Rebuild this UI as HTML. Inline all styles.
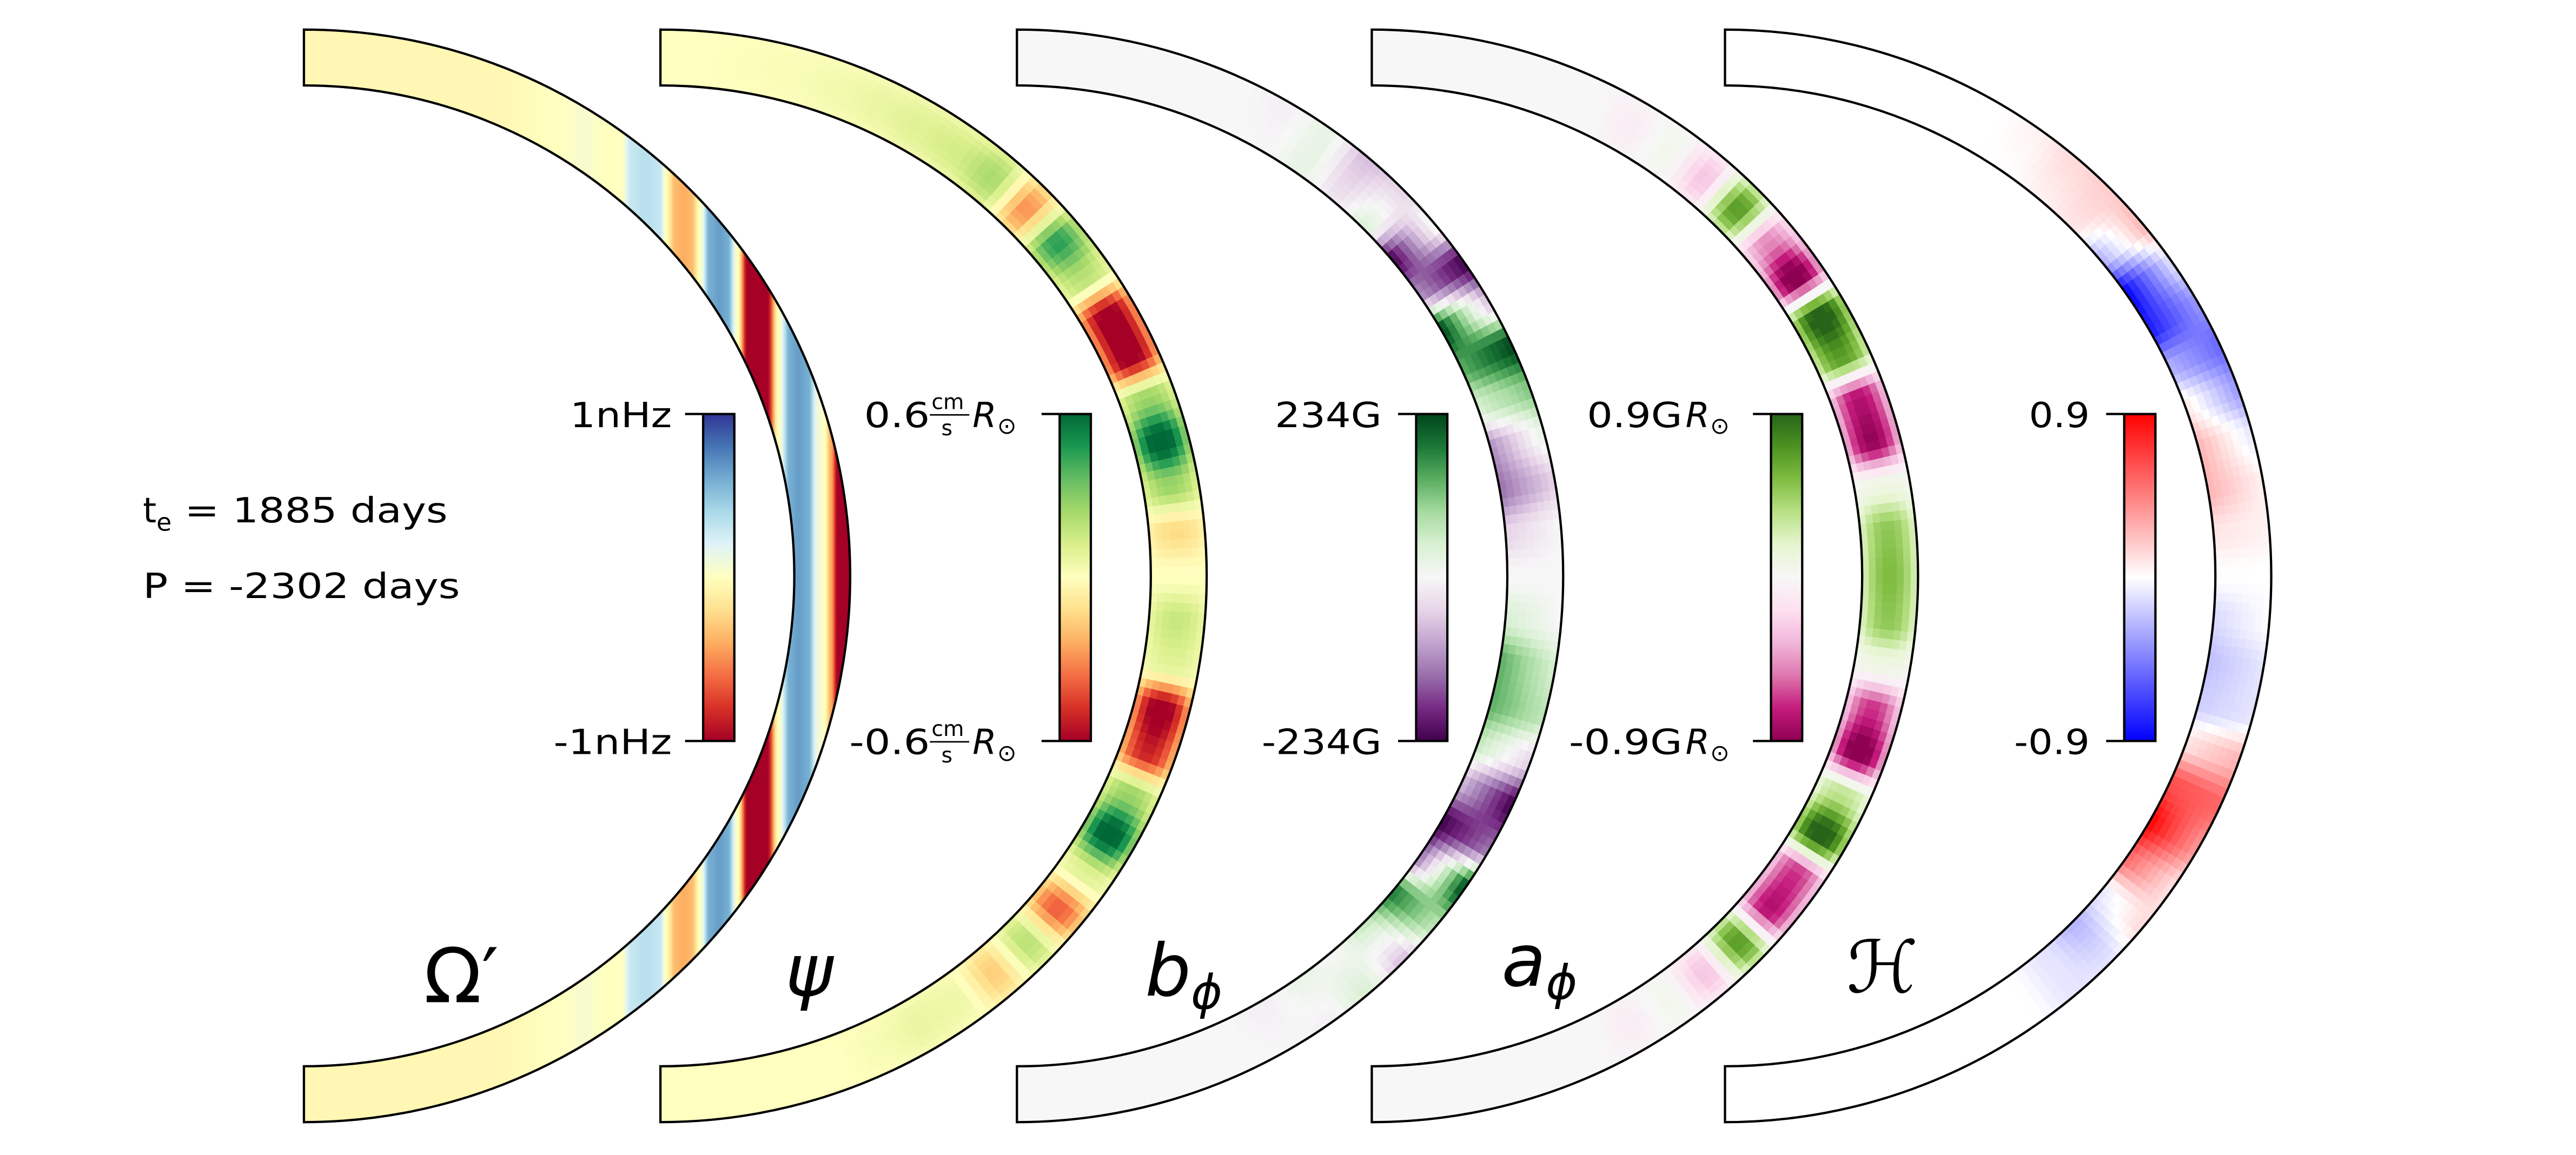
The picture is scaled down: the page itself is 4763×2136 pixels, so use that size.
<!DOCTYPE html>
<html><head><meta charset="utf-8">
<style>
html,body{margin:0;padding:0;background:#fff;}
svg{display:block;}
text{font-family:"DejaVu Sans","Liberation Sans",sans-serif;fill:#000;}
</style></head>
<body>
<svg id="fig" xmlns="http://www.w3.org/2000/svg" width="4763" height="2136" viewBox="0 0 1568 703" preserveAspectRatio="none">
  <defs id="defs"></defs>
  <g id="fields"></g>
  <g id="outlines"></g>
  <g id="bars"></g>
  <g font-size="21">
    <text x="87" y="318">t<tspan font-size="15" dy="5">e</tspan><tspan dy="-5" textLength="168" lengthAdjust="spacingAndGlyphs"> = 1885 days</tspan></text>
    <text x="87" y="364" textLength="193" lengthAdjust="spacingAndGlyphs">P  = -2302 days</text>
  </g>
  <g font-size="44">
    <text x="258" y="610" font-size="46">Ω′</text>
    <text x="478" y="606" font-style="italic">ψ</text>
    <text x="697" y="606" font-style="italic">b<tspan font-size="29" dy="8">ϕ</tspan></text>
    <text x="914" y="600" font-style="italic">a<tspan font-size="29" dy="8">ϕ</tspan></text>
    <text x="1124" y="604" font-style="italic">ℋ</text>
  </g>
  <g font-size="21">
    <text x="347" y="260" textLength="62" lengthAdjust="spacingAndGlyphs">1nHz</text>
    <text x="337" y="459" textLength="72" lengthAdjust="spacingAndGlyphs">-1nHz</text>

    <g>
      <text x="526" y="260" textLength="40" lengthAdjust="spacingAndGlyphs">0.6</text>
      <text x="567" y="249" font-size="13">cm</text><line x1="566" y1="252.5" x2="590" y2="252.5" stroke="#000" stroke-width="0.9"/><text x="573" y="265" font-size="13">s</text>
      <text x="592" y="260" font-style="italic">R</text><text x="607" y="264" font-size="14">⊙</text>
    </g>
    <g>
      <text x="517" y="459" textLength="49" lengthAdjust="spacingAndGlyphs">-0.6</text>
      <text x="567" y="448" font-size="13">cm</text><line x1="566" y1="451.5" x2="590" y2="451.5" stroke="#000" stroke-width="0.9"/><text x="573" y="464" font-size="13">s</text>
      <text x="592" y="459" font-style="italic">R</text><text x="607" y="463" font-size="14">⊙</text>
    </g>

    <text x="776" y="260" textLength="65" lengthAdjust="spacingAndGlyphs">234G</text>
    <text x="768" y="459" textLength="73" lengthAdjust="spacingAndGlyphs">-234G</text>

    <g><text x="966" y="260" textLength="58" lengthAdjust="spacingAndGlyphs">0.9G</text><text x="1026" y="260" font-style="italic">R</text><text x="1041" y="264" font-size="14">⊙</text></g>
    <g><text x="955" y="459" textLength="69" lengthAdjust="spacingAndGlyphs">-0.9G</text><text x="1026" y="459" font-style="italic">R</text><text x="1041" y="463" font-size="14">⊙</text></g>

    <text x="1235" y="260" textLength="37" lengthAdjust="spacingAndGlyphs">0.9</text>
    <text x="1226" y="459" textLength="46" lengthAdjust="spacingAndGlyphs">-0.9</text>
  </g>
</svg>
<script>
// ---------- data ----------
const lats = [90,85,80,75,70,65,60,55,50,45,40,35,30,25,20,15,10,5,0,-5,-10,-15,-20,-25,-30,-35,-40,-45,-50,-55,-60,-65,-70,-75,-80,-85,-90];
const omegaS = [0,0.345,0.465,0.511,0.556,0.580,0.598,0.625,0.652,0.661,0.679,0.694,0.709,0.724,0.742,0.760,0.775,0.793,0.811,0.829,0.847,0.868,0.889,0.904,0.922,0.940,0.952,0.964,0.976,1.0];
const omegaV = [-0.05,-0.05,0,0.05,0,0,0.3,0.35,0.3,0,-0.35,-0.4,-0.35,0,0.6,0.65,0.6,0,-1,-1,-1,0,0.6,0.65,0.6,0.1,0,-0.4,-1,-1];
const psiV = [0,0,0.02,0.03,0.06,0.1,0.15,0.2,0.35,-0.45,0.7,0.3,-1,-1,0.4,1,0.4,-0.2,0,0.25,0.15,-1,-0.8,0.4,1,0.15,-0.6,0.3,-0.25,0.08,0.1,0.04,0,0,0,0,0];
const bInner = [0,0,0,0,0,0,0,0.1,-0.1,0.2,-1,-0.5,1.0,0.6,0.2,-0.5,-0.6,-0.2,0,0.2,0.6,0.6,0.3,-0.3,-1,-0.6,0.8,0.3,0,0.1,-0.05,0,0,0,0,0,0];
const bOuter = [0,0,0,0,0,0,-0.05,0.1,-0.3,-0.2,0.1,-1,-0.3,1,0.5,0.1,-0.2,0,0,0,0.2,0.3,-0.2,-1,-0.6,1,0.3,-0.3,0.2,-0.05,0,0,0,0,0,0,0];
const aV = [0,0,0,0,0,0,-0.08,0.05,-0.3,0.7,-0.5,-1,1,0.7,-0.8,-0.9,0.1,0.5,0.55,0.5,0.1,-0.7,-1,0.35,1,-0.7,-0.8,0.7,-0.3,0.05,-0.08,0,0,0,0,0,0];
const hInner = [0,0,0,0,0,0,0,0,0.05,0.1,-0.3,-1,-0.9,-0.3,0.1,0.3,0.3,0.1,0,-0.15,-0.25,-0.2,0.1,0.7,1,0.6,-0.1,-0.3,-0.1,0,0,0,0,0,0,0,0];
const hOuter = [0,0,0,0,0,0,0,0.05,0.15,0.2,0.3,-0.1,-0.4,-0.6,-0.4,-0.1,0.05,0.05,0,0,-0.1,-0.1,0.3,0.6,0.4,0.1,0.15,-0.1,-0.1,0,0,0,0,0,0,0,0];

// ---------- colormaps ----------
const CM = {
  RdYlBu:['#a50026','#d73027','#f46d43','#fdae61','#fee090','#ffffbf','#e0f3f8','#abd9e9','#74add1','#4575b4','#313695'],
  RdYlGn:['#a50026','#d73027','#f46d43','#fdae61','#fee08b','#ffffbf','#d9ef8b','#a6d96a','#66bd63','#1a9850','#006837'],
  PRGn:['#40004b','#762a83','#9970ab','#c2a5cf','#e7d4e8','#f7f7f7','#d9f0d3','#a6dba0','#5aae61','#1b7837','#00441b'],
  PiYG:['#8e0152','#c51b7d','#de77ae','#f1b6da','#fde0ef','#f7f7f7','#e6f5d0','#b8e186','#7fbc41','#4d9221','#276419'],
  bwr:['#0000ff','#ffffff','#ff0000']
};
function hex(h){return [parseInt(h.substr(1,2),16),parseInt(h.substr(3,2),16),parseInt(h.substr(5,2),16)];}
function cmap(name,v){
  const a=CM[name]; let t=(Math.max(-1,Math.min(1,v))+1)/2*(a.length-1);
  let i=Math.min(a.length-2,Math.floor(t)), f=t-i;
  const c0=hex(a[i]),c1=hex(a[i+1]);
  return 'rgb('+c0.map((c,k)=>Math.round(c+(c1[k]-c)*f)).join(',')+')';
}
function interp(xs,ys,x){
  const n=xs.length;
  for(let i=0;i<n-1;i++){
    const a=xs[i],b=xs[i+1];
    if((x<=a&&x>=b)||(x>=a&&x<=b)){let f=(x-a)/(b-a||1);f=f*f*(3-2*f);return ys[i]+(ys[i+1]-ys[i])*f;}
  }
  return ys[n-1];
}

// ---------- geometry ----------
const NS='http://www.w3.org/2000/svg';
const cy=350.5, Ro=332.5, Ri=298.5;
const panelX=[185,402,619,835,1050];
const barX=[428,645,862,1078,1293], barTop=252, barBot=451, barW=19;
const fields=document.getElementById('fields');
const defs=document.getElementById('defs');
const P=(cx,r,latd)=>{const t=latd*Math.PI/180;return [(cx+r*Math.cos(t)).toFixed(2),(cy-r*Math.sin(t)).toFixed(2)];};

function annulusPath(cx){
  return `M${cx},${cy-Ro} A${Ro},${Ro} 0 0 1 ${cx},${cy+Ro} L${cx},${cy+Ri} A${Ri},${Ri} 0 0 0 ${cx},${cy-Ri} Z`;
}

(function(){
  const cx=panelX[0];
  const cp=document.createElementNS(NS,'clipPath'); cp.setAttribute('id','clip0');
  const p=document.createElementNS(NS,'path'); p.setAttribute('d',annulusPath(cx)); cp.appendChild(p); defs.appendChild(cp);
  const g=document.createElementNS(NS,'g'); g.setAttribute('clip-path','url(#clip0)');
  
  
  for(let x=0;x<=Ro+1;x+=1){
    const s=x/Ro;
    const r=document.createElementNS(NS,'rect');
    r.setAttribute('x',cx+x-0.2); r.setAttribute('y',cy-Ro-2); r.setAttribute('width',1.4); r.setAttribute('height',2*Ro+4);
    r.setAttribute('fill',cmap('RdYlBu',interp(omegaS,omegaV,s)));
    
    
    g.appendChild(r);
  }
  fields.appendChild(g);
})();

function drawPanel(idx,name,cmapName,inner,outer,envelope){
  const cx=panelX[idx];
  const g=document.createElementNS(NS,'g');
  
  
  const nr=8;
  for(let L=90;L>-90;L-=1){
    const lm=L-0.5;
    const vi=interp(lats,inner,lm), vo=interp(lats,outer,lm);
    for(let k=0;k<nr;k++){
      const f=(k+0.5)/nr;
      let v=vi+(vo-vi)*f;
      if(envelope) v*= (0.3+0.8*Math.pow(Math.sin(Math.PI*f),0.7));
      const r1=Ri+(Ro-Ri)*k/nr, r2=Ri+(Ro-Ri)*(k+1)/nr;
      const a=P(cx,r1,L),b=P(cx,r2,L),c=P(cx,r2,L-1),d=P(cx,r1,L-1);
      const col=cmap(cmapName,v);
      const path=document.createElementNS(NS,'path');
      path.setAttribute('d',`M${a}L${b}L${c}L${d}Z`);
      path.setAttribute('fill',col); path.setAttribute('stroke',col); path.setAttribute('stroke-width','0.4');
      
      
      g.appendChild(path);
    }
  }
  fields.appendChild(g);
}
drawPanel(1,'psi-field','RdYlGn',psiV,psiV,true);
drawPanel(2,'b-phi-field','PRGn',bInner,bOuter,false);
drawPanel(3,'a-phi-field','PiYG',aV,aV,true);
drawPanel(4,'helicity-field','bwr',hInner,hOuter,false);

const outlines=document.getElementById('outlines');
const outlineNames=['omega-annulus','psi-annulus','b-phi-annulus','a-phi-annulus','helicity-annulus'];
panelX.forEach((cx,i)=>{
  const p=document.createElementNS(NS,'path');
  p.setAttribute('d',annulusPath(cx)); p.setAttribute('fill','none'); p.setAttribute('stroke','#000'); p.setAttribute('stroke-width','1.4');
  
  
  outlines.appendChild(p);
});

const bars=document.getElementById('bars');
const barMaps=['RdYlBu','RdYlGn','PRGn','PiYG','bwr'];
const barNames=['omega-colorbar','psi-colorbar','b-phi-colorbar','a-phi-colorbar','helicity-colorbar'];
barX.forEach((x,i)=>{
  const lg=document.createElementNS(NS,'linearGradient');
  lg.setAttribute('id','lg'+i); lg.setAttribute('x1','0'); lg.setAttribute('y1','1'); lg.setAttribute('x2','0'); lg.setAttribute('y2','0');
  const cols=CM[barMaps[i]];
  cols.forEach((c,k)=>{const s=document.createElementNS(NS,'stop');s.setAttribute('offset',k/(cols.length-1));s.setAttribute('stop-color',c);lg.appendChild(s);});
  defs.appendChild(lg);
  const r=document.createElementNS(NS,'rect');
  r.setAttribute('x',x); r.setAttribute('y',barTop); r.setAttribute('width',barW); r.setAttribute('height',barBot-barTop);
  r.setAttribute('fill','url(#lg'+i+')'); r.setAttribute('stroke','#000'); r.setAttribute('stroke-width','1.4');
  
  
  bars.appendChild(r);
  [barTop,barBot].forEach(y=>{
    const l=document.createElementNS(NS,'line');
    l.setAttribute('x1',x-11); l.setAttribute('x2',x); l.setAttribute('y1',y); l.setAttribute('y2',y);
    l.setAttribute('stroke','#000'); l.setAttribute('stroke-width','1.4');
    
    
    bars.appendChild(l);
  });
});
</script>
</body></html>
